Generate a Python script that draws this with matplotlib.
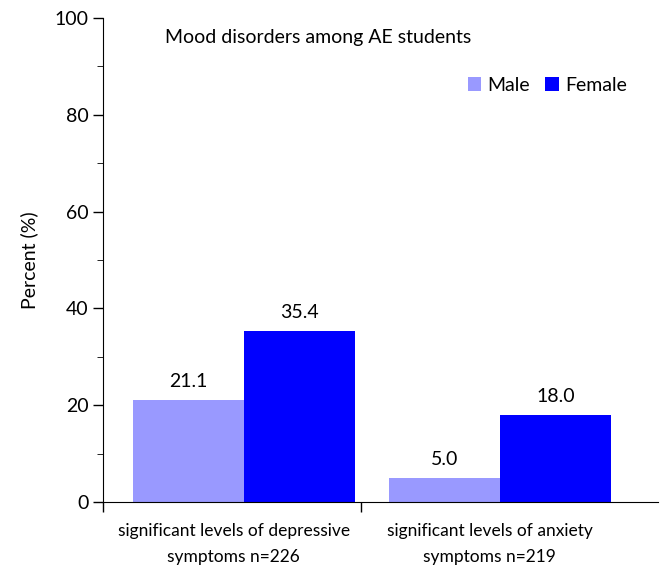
import numpy as np
import matplotlib.pyplot as plt
from matplotlib.ticker import MultipleLocator

plt.rcParams['font.family'] = ['Lato', 'DejaVu Sans']

categories = ['significant levels of depressive\nsymptoms n=226',
              'significant levels of anxiety\nsymptoms n=219']
male = [21.1, 5.0]
female = [35.4, 18.0]

fig = plt.figure(figsize=(6.6, 5.71), dpi=100)
ax = fig.add_axes([103/660, 69/571, 555/660, 484/571])

x = np.arange(len(categories))
w = 0.434
b1 = ax.bar(x - w/2, male, w, color='#9999FF', label='Male')
b2 = ax.bar(x + w/2, female, w, color='#0000FF', label='Female')

for bars, vals in [(b1, male), (b2, female)]:
    for r, v in zip(bars, vals):
        ax.text(r.get_x() + r.get_width()/2, v + 3.8, f'{v:.1f}',
                ha='center', va='center', fontsize=14)

ax.set_xlim(-0.551, 1.617)
ax.set_ylim(0, 100)
ax.yaxis.set_major_locator(MultipleLocator(20))
ax.yaxis.set_minor_locator(MultipleLocator(10))
ax.set_xticks([-0.551, 0.457])
ax.set_xticklabels([])
for xi, lab in zip(x, categories):
    ax.text(xi - 0.04, -4.4, lab, ha='center', va='top', fontsize=12.5,
            linespacing=1.75, transform=ax.transData)

ax.tick_params(axis='both', direction='out', length=7, width=1, labelsize=14)
ax.tick_params(axis='y', which='minor', direction='out', length=4)
ax.spines['top'].set_visible(False)
ax.spines['right'].set_visible(False)
ax.set_ylabel('Percent (%)', fontsize=14, labelpad=12)

ax.text(-0.31, 96.0, 'Mood disorders among AE students', fontsize=14, va='center')
ax.legend(loc='upper right', bbox_to_anchor=(0.975, 0.915), ncol=2, frameon=False,
          fontsize=14, handlelength=0.7, handleheight=0.7, handletextpad=0.3,
          columnspacing=0.8)

fig.savefig('out.png', dpi=100)
